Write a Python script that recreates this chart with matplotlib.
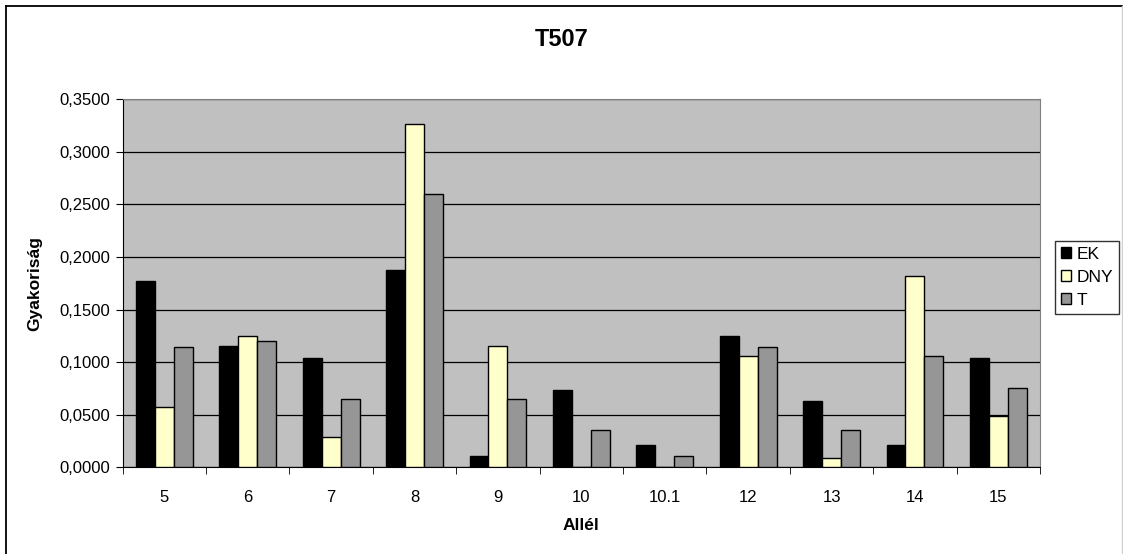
import matplotlib.pyplot as plt
import numpy as np
from matplotlib.patches import Patch
from matplotlib.lines import Line2D

plt.rcParams['font.family'] = ['Liberation Sans', 'DejaVu Sans']

# data
alleles = ["5", "6", "7", "8", "9", "10", "10.1", "12", "13", "14", "15"]
ek = [0.1772, 0.1151, 0.1043, 0.1877, 0.0108, 0.0732, 0.0212, 0.1252, 0.0628, 0.0212, 0.1043]
dny = [0.0574, 0.1252, 0.0288, 0.3269, 0.1157, 0.0, 0.0, 0.1056, 0.0092, 0.1817, 0.0485]
t = [0.1148, 0.1198, 0.0650, 0.2600, 0.0650, 0.0355, 0.0105, 0.1148, 0.0355, 0.1056, 0.0758]
series = ["EK", "DNY", "T"]
colors = ["#000000", "#FFFFCC", "#969696"]

W, H = 1123, 554
fig = plt.figure(figsize=(W / 100, H / 100), dpi=100)
ax = fig.add_axes([122.7 / W, 1 - 467.3 / H, (1040 - 122.7) / W, (467.3 - 99.3) / H])
ax.set_facecolor("#C0C0C0")

x = np.arange(len(alleles))
bw = 0.227
for i, (vals, c) in enumerate(zip([ek, dny, t], colors)):
    ax.bar(x + (i - 1) * bw, vals, width=bw, color=c, edgecolor="black",
           linewidth=1.0, zorder=3)

ax.set_xlim(-0.5, len(alleles) - 0.5)
ax.set_ylim(0, 0.35)
yt = np.arange(0, 0.3501, 0.05)
ax.set_yticks(yt)
ax.set_yticklabels([("%.4f" % v).replace(".", ",") for v in yt])
ax.yaxis.grid(True, color="black", linewidth=0.9, zorder=1)
ax.set_axisbelow(True)

ax.set_xticks(x)
ax.set_xticklabels(alleles)
ax.set_xticks(np.arange(-0.5, len(alleles)), minor=True)
ax.tick_params(axis="x", which="major", length=0, pad=16, labelsize=12)
ax.tick_params(axis="x", which="minor", length=5, color="black", direction="out")
ax.tick_params(axis="y", length=5, color="black", labelsize=12, pad=4)

for s in ["top", "right"]:
    ax.spines[s].set_color("#808080")
for s in ["left", "bottom"]:
    ax.spines[s].set_color("black")

ax.set_xlabel("Allél", fontsize=12.5, fontweight="bold", labelpad=10)
ax.set_ylabel("Gyakoriság", fontsize=12.5, fontweight="bold", labelpad=12)
fig.text(0.5, 1 - 39 / H, "T507", ha="center", va="center", fontsize=17, fontweight="bold")

handles = [Patch(facecolor=c, edgecolor="black", label=s) for s, c in zip(series, colors)]
leg = fig.legend(handles=handles, loc="upper left",
                 bbox_to_anchor=(1055 / W, 1 - 241 / H), fontsize=12.5,
                 frameon=True, fancybox=False, handlelength=0.6, handleheight=0.6,
                 handletextpad=0.3, borderpad=0.35, labelspacing=0.45, borderaxespad=0)
leg.get_frame().set_edgecolor("black")
leg.get_frame().set_linewidth(1.0)

# chart border: dark on left/top, light at right edge
fig.add_artist(Line2D([6 / W, 6 / W], [0, 1 - 6 / H], transform=fig.transFigure,
                      color="black", linewidth=1.3))
fig.add_artist(Line2D([6 / W, 1121.5 / W], [1 - 6 / H, 1 - 6 / H], transform=fig.transFigure,
                      color="black", linewidth=1.3))
fig.add_artist(Line2D([1121.5 / W, 1121.5 / W], [0, 1 - 6 / H], transform=fig.transFigure,
                      color="#D0D0D0", linewidth=1.0))

fig.savefig("out.png", dpi=100)
